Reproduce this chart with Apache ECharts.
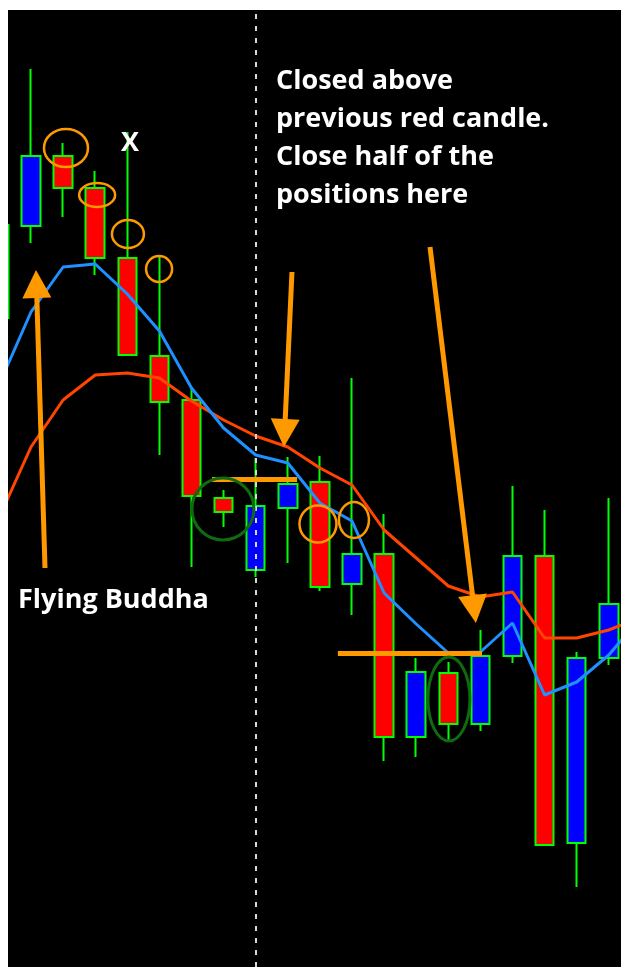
<!DOCTYPE html>
<html><head><meta charset="utf-8">
<script src="https://cdn.jsdelivr.net/npm/echarts@6/dist/echarts.min.js"></script>
<style>html,body{margin:0;padding:0;background:#fff}#c{width:621px;height:967px}</style>
</head><body><div id="c"></div>
<script>
// ---- data (price units) ----
const candleIndex = [0,1,2,3,4,5,6,7,8,9,10,11,12,13,14,15,16,17,18,19];
const opens  = [64.7,73.9,80.9,77.7,70.7,60.9,56.5,46.7,39.5,45.7,48.3,38.1,41.1,22.8,29.2,24.1,30.9,40.9,12.2,30.7];
const closes = [74.0,80.9,77.7,70.7,61.0,56.3,46.9,45.3,45.9,48.1,37.8,41.1,22.8,29.3,24.1,30.9,40.9,12.0,30.7,36.1];
const lows   = [64.7,72.2,74.8,69.0,61.0,51.0,39.8,43.8,38.8,40.2,37.4,35.0,20.4,20.8,22.5,23.4,30.2,12.0, 7.8,30.0];
const highs  = [74.0,89.6,82.2,79.4,83.3,70.8,57.7,47.5,50.7,50.8,50.9,58.7,45.1,30.7,30.3,33.5,47.9,45.5,31.3,46.7];
const maIndex = [0,1,2,3,4,5,6,7,8,9,10,11,12,13,14,15,16,17,18,19,20];
const fastMA = [58.0,65.3,69.8,70.1,67.1,63.4,57.7,53.7,51.0,50.2,46.2,44.4,37.2,34.1,31.2,31.3,34.2,27.0,28.3,31.0,34.8];
const slowMA = [44.7,51.8,56.5,59.0,59.2,58.7,56.4,54.5,52.9,51.8,49.7,48.0,43.5,40.7,37.9,36.8,37.3,32.7,32.7,33.5,34.8];
const separatorIndex = 8;
// annotation anchors (candle index, price)
const levelLines = [[6.64, 9.29, 48.6], [10.56, 15.05, 31.2]];
const orangeRings = [[2.09,81.7,22,19],[3.06,77.0,18,12],[4.02,73.1,16,14],[4.99,69.6,13,13],[9.94,44.1,18.5,18.5],[11.06,44.5,15,18]];
const greenRings = [[6.98,45.6,31,31],[14.02,26.6,21,42]];
const arrows = [[1.436,39.7,1.156,69.5],[9.13,69.3,8.88,51.8],[13.43,71.8,14.86,34.2]];

const ORANGE = '#FF9900';
const chart = echarts.init(document.getElementById('c'), null, {renderer:'canvas'});
chart.setOption({
  backgroundColor:'#ffffff',
  animation:false,
  grid:{left:8, right:0, top:10, bottom:0, show:true, backgroundColor:'#000000', borderWidth:0},
  xAxis:{type:'value', min:0.2835, max:19.38, show:false},
  yAxis:{type:'value', min:-0.2, max:95.5, show:false},
  series:[
    {type:'candlestick', clip:true, barWidth:19,
     data: candleIndex.map((i,k)=>[i, opens[k], closes[k], lows[k], highs[k]]),
     encode:{x:0, y:[1,2,3,4]},
     itemStyle:{color:'#0000FF', color0:'#FF0000', borderColor:'#00FF00', borderColor0:'#00FF00', borderColorDoji:'#00FF00', borderWidth:2},
     markLine:{silent:true, symbol:'none', label:{show:false},
       lineStyle:{color:'#d8d8d8', width:2, type:[5,7]},
       data:[{xAxis:separatorIndex}]}
    },
    {type:'line', data: maIndex.map((i,k)=>[i, slowMA[k]]), showSymbol:false, symbol:'none',
     lineStyle:{color:'#FF4500', width:3}, z:3},
    {type:'line', data: maIndex.map((i,k)=>[i, fastMA[k]]), showSymbol:false, symbol:'none',
     lineStyle:{color:'#1E90FF', width:3}, z:4,
     markLine:{silent:true, symbol:'none', label:{show:false}, lineStyle:{color:ORANGE, width:5, type:'solid'},
       data: levelLines.map(l=>[{coord:[l[0], l[2]]},{coord:[l[1], l[2]]}])}
    }
  ]
});

const px = (i,v)=>chart.convertToPixel({gridIndex:0}, [i,v]);
const g = [];
orangeRings.forEach(r=>{const p=px(r[0],r[1]); g.push({type:'ellipse', shape:{cx:p[0], cy:p[1], rx:r[2], ry:r[3]}, style:{fill:null, stroke:ORANGE, lineWidth:2.5}, z:100});});
greenRings.forEach(r=>{const p=px(r[0],r[1]); g.push({type:'ellipse', shape:{cx:p[0], cy:p[1], rx:r[2], ry:r[3]}, style:{fill:null, stroke:'#0E6B0E', lineWidth:3}, z:100});});
arrows.forEach(a=>{
  const t=px(a[0],a[1]), h=px(a[2],a[3]);
  const dx=h[0]-t[0], dy=h[1]-t[1], L=Math.hypot(dx,dy), ux=dx/L, uy=dy/L, nx=-uy, ny=ux;
  const hl=28, hw=14.5;
  const bx=h[0]-ux*hl, by=h[1]-uy*hl;
  g.push({type:'line', shape:{x1:t[0], y1:t[1], x2:bx+ux*2, y2:by+uy*2}, style:{stroke:ORANGE, lineWidth:5}, z:101});
  g.push({type:'polygon', shape:{points:[[h[0],h[1]],[bx+nx*hw,by+ny*hw],[bx-nx*hw,by-ny*hw]]}, style:{fill:ORANGE}, z:101});
});
// white page margin at left edge (chart window starts at x=8)
g.push({type:'rect', shape:{x:0, y:0, width:8, height:967}, style:{fill:'#ffffff'}, z:200});
const FONT = 'bold 27px "Open Sans"';
g.push({type:'text', x:276, y:62, z:110, style:{text:'Closed above\nprevious red candle.\nClose half of the\npositions here', font:FONT, fill:'#ffffff', lineHeight:38, verticalAlign:'top'}});
g.push({type:'text', x:18, y:585, z:110, style:{text:'Flying Buddha', font:FONT, fill:'#ffffff', lineHeight:30, verticalAlign:'top'}});
g.push({type:'text', x:130, y:143, z:110, style:{text:'X', font:FONT, fill:'#ffffff', align:'center', verticalAlign:'middle'}});
chart.setOption({graphic:g});
</script></body></html>
